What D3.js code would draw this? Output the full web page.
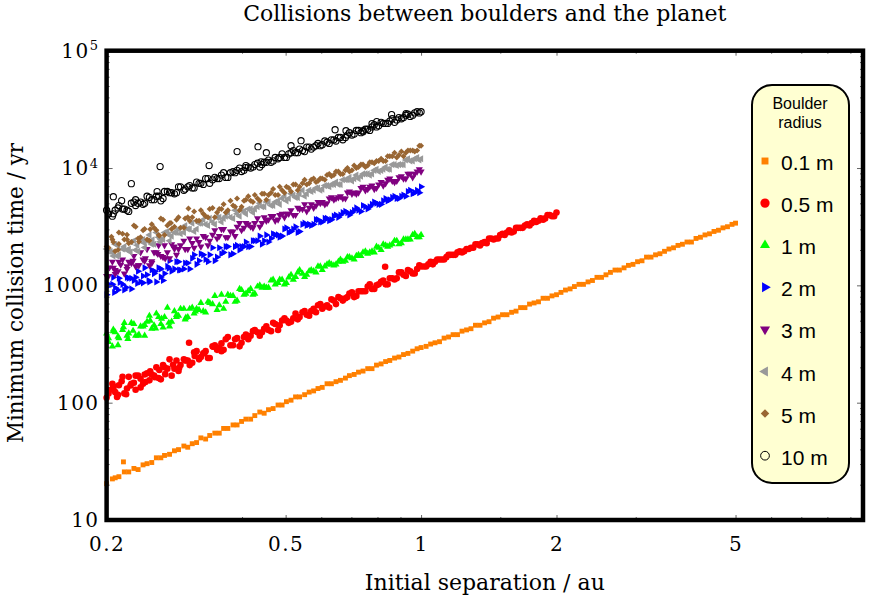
<!DOCTYPE html>
<html>
<head>
<meta charset="utf-8">
<script src="https://cdn.jsdelivr.net/npm/d3@7"></script>
<style>
  body { margin: 0; background: #fff; }
  svg { display: block; }
</style>
</head>
<body>
<svg id="chart"></svg>
<script>
// initial separations (au)
let sepInner = [0.200,0.206,0.209,0.213,0.219,0.224,0.230,0.235,0.241,0.246,
  0.252,0.258,0.264,0.269,0.276,0.283,0.289,0.297,0.303,0.310,
  0.317,0.324,0.332,0.339,0.348,0.356,0.364,0.372,0.382,0.390,
  0.399,0.408,0.418,0.427,0.438,0.448,0.458,0.469,0.481,0.491,
  0.502,0.514,0.526,0.537,0.551,0.564,0.577,0.590,0.603,0.618,
  0.632,0.647,0.662,0.679,0.693,0.710,0.726,0.743,0.761,0.778,
  0.796,0.815,0.834,0.852,0.873,0.893,0.914,0.935,0.958,0.980,1.000]
let sepInnerB = [0.202,0.207,0.212,0.217,0.222,0.227,0.232,0.238,0.243,0.249,
  0.255,0.261,0.267,0.273,0.279,0.286,0.292,0.299,0.306,0.313,
  0.321,0.328,0.336,0.344,0.352,0.360,0.368,0.377,0.386,0.395,
  0.404,0.413,0.423,0.433,0.443,0.453,0.464,0.474,0.485,0.497,
  0.508,0.520,0.532,0.545,0.557,0.570,0.584,0.597,0.611,0.625,
  0.640,0.655,0.670,0.686,0.702,0.718,0.735,0.752,0.769,0.787,
  0.805,0.824,0.843,0.863,0.883,0.904,0.925,0.946,0.968,0.991]
let sepMid = [1.026,1.050,1.074,1.099,1.125,1.151,1.178,1.205,1.233,1.262,
  1.291,1.321,1.352,1.384,1.416,1.449,1.483,1.517,1.552,1.589,
  1.626,1.664,1.702,1.742,1.783,1.824,1.867,1.910,1.954,2.000]
let sepMidB = [1.014,1.038,1.062,1.086,1.112,1.138,1.164,1.191,1.219,1.247,
  1.276,1.306,1.336,1.367,1.399,1.432,1.465,1.499,1.534,1.570,
  1.607,1.644,1.682,1.721,1.761,1.802,1.844,1.887,1.931,1.976]
let sepOuter = [2.046,2.094,2.144,2.192,2.244,2.296,2.35,2.404,2.46,2.518,
  2.576,2.636,2.698,2.76,2.826,2.89,2.958,3.028,3.098,3.17,
  3.244,3.32,3.396,3.476,3.556,3.64,3.724,3.81,3.9,3.99,
  4.084,4.178,4.276,4.376,4.478,4.582,4.688,4.798,4.91,5.0]

// minimum collision times (yr) for each boulder radius
let tOrange = [20.4,22.4,22.9,23.4,25.7,25.7,27.5,26.9,29.5,30.2,
  30.9,33.9,33.9,35.5,36.3,38.9,39.8,42.7,41.7,44.7,
  45.7,50.1,49.0,52.5,55.0,55.0,60.3,60.3,64.6,64.6,
  69.2,72.4,72.4,77.6,83.2,81.3,87.1,89.1,95.5,95.5,
  102,105,112,112,117,123,126,132,135,145,
  145,151,155,162,170,174,182,186,195,195,
  209,214,224,229,240,245,257,263,275,288,
  295,302,316,324,331,355,363,380,380,407,
  417,427,457,457,479,490,525,537,562,562,
  589,603,646,646,692,708,724,776,776,813,
  832,871,912,933,977,1020,1020,1070,1100,1170,
  1170,1230,1290,1350,1350,1410,1480,1510,1590,1620,
  1740,1740,1820,1860,1950,2040,2090,2190,2240,2340,
  2340,2510,2570,2690,2750,2880,2950,3090,3160,3310,3390]
let tRed = [110,145,123,141,120,166,148,170,145,178,
  174,200,158,200,234,195,186,234,229,219,
  275,245,275,240,309,295,282,363,309,355,
  324,380,372,417,372,427,417,479,417,501,
  501,490,575,537,603,550,631,676,631,676,
  759,692,776,776,851,794,891,891,977,933,
  1000,1070,1020,1150,1120,1290,1230,1350,1260,1380,
  1450,1450,1590,1590,1660,1660,1820,1820,1910,1910,
  2040,2090,2240,2190,2340,2510,2460,2510,2750,2820,
  2820,3090,3090,3240,3240,3550,3550,3630,3980,3890,4170]
let tRed2 = [120,138,117,166,132,145,170,135,174,155,
  170,162,209,195,170,229,209,229,209,269,
  234,263,240,302,282,275,347,309,347,302,
  363,347,407,398,398,447,407,468,457,525,
  479,525,513,589,562,603,589,692,661,646,
  741,794,741,794,871,813,891,891,1020,933,
  1020,1100,1020,1150,1150,1290,1200,1320,1260,1480,
  1450,1510,1510,1660,1660,1740,1820,1820,1950,1950,
  2040,2090,2240,2290,2290,2510,2510,2690,2690,2950,
  2880,3090,3090,3310,3390,3470,3720,3720,3980,3890]
let tGreen = [389,302,398,355,479,389,468,372,447,490,
  427,575,468,537,447,603,550,631,537,646,
  631,708,589,708,813,676,631,832,813,741,
  912,851,933,851,1000,977,955,1120,1050,1120,
  1050,1230,1180,1350,1180,1320,1320,1450,1350,1510,
  1510,1510,1660,1620,1740,1660,1820,1910,1860,1950,
  2140,2000,2190,2190,2400,2240,2460,2460,2690,2570,2690]
let tGreen2 = [355,407,309,417,372,479,372,447,372,550,
  457,537,437,646,490,537,631,513,631,575,
  617,603,724,692,617,832,724,813,724,933,
  832,891,832,977,955,955,1100,1020,1120,1020,
  1170,1120,1290,1260,1230,1350,1290,1450,1450,1550,
  1480,1590,1590,1740,1700,1780,1780,1950,1910,1910,
  2090,2240,2140,2240,2400,2290,2460,2460,2750,2570]
let tBlue = [832,1020,955,1150,912,1150,1100,1320,1050,1230,
  1350,1070,1380,1260,1620,1380,1590,1380,1550,1700,
  1510,1860,1660,1820,1620,2090,1910,2140,1860,2190,
  2140,2340,2140,2400,2630,2400,2340,2750,2690,2630,
  3090,2880,3160,2880,3390,3310,3310,3630,3470,3720,
  3630,3980,3980,4270,3980,4370,4370,4790,4470,4900,
  5010,4900,5500,5370,5750,5500,5890,6310,6030,6460,6920]
let tBlue2 = [1020,1170,912,1020,1170,933,1170,1070,1410,1070,
  1260,1410,1100,1450,1320,1590,1350,1550,1380,1820,
  1620,1820,1590,2090,1740,1860,2140,1820,2140,2000,
  2140,2140,2400,2400,2240,2690,2510,2690,2570,3020,
  2820,3020,2820,3310,3240,3240,3630,3470,3720,3550,
  3890,3800,4170,4170,4170,4570,4270,4680,4680,5130,
  4900,5250,5250,5620,5500,5750,5750,6460,6170,6170]
let tPurple = [1200,1590,1350,1590,1260,1590,1780,1480,1660,2040,
  1550,1910,1780,2190,1700,2140,2040,2400,2040,2290,
  2510,2140,2570,2400,2950,2630,3020,2570,2880,3160,
  2950,3390,3160,3390,3160,3800,3630,3890,3630,4070,
  4070,4370,3980,4470,4900,4570,4570,5130,5130,5010,
  5620,5500,5750,5500,6310,6170,6170,6920,6610,7080,
  6760,7590,7410,8130,7590,8320,8130,8910,8320,9330,9330]
let tPurple2 = [1200,1410,1320,1660,1450,1550,1450,1910,1620,1480,
  1910,2190,1740,1910,2240,1820,2190,2040,2510,2090,
  2340,2630,2190,2690,2510,3020,2570,2880,2630,3390,
  3090,3310,3090,3720,3390,3550,3890,3550,3980,3800,
  4070,3980,4570,4470,4270,4900,4790,5010,4900,5500,
  5370,5620,5500,6170,6030,6030,6760,6460,6920,6610,
  7240,7080,7940,7760,7760,8510,8130,8910,8910,9770]
let tGray = [2040,1910,2240,1820,2140,2040,2400,1950,2460,2400,
  2240,2820,2460,2820,2400,2820,3020,2820,3020,3390,
  3020,3390,3310,3720,3310,3800,3720,4170,3720,4070,
  4370,4070,4470,4470,5010,4680,5130,4790,5250,5500,
  5250,6030,5620,6030,5750,6460,6460,6760,6610,7080,
  7240,7590,7240,7940,8320,8130,8130,8910,8910,8910,
  9770,9550,10200,9770,10700,10700,10700,12000,11500,12300,12000]
let tGray2 = [1950,1780,2190,2040,2000,2340,2000,2400,2290,2690,
  2240,2570,2460,2880,2630,2820,2750,3240,3020,2880,
  3390,3630,3240,3470,3800,3470,3890,3800,4370,3890,
  4270,4470,4170,4680,4680,5130,4790,5130,4900,5750,
  5500,5890,5620,6460,6030,6310,6760,6460,7080,6920,
  7240,7240,7940,7940,7760,8710,8510,8910,8710,9550,
  9330,9770,9770,10700,10500,10700,11700,11500,12000,11700]
let tBrown = [2140,2460,1950,2820,2460,2290,3240,2510,2950,2460,
  3310,2950,3720,2690,3390,3160,3800,3090,3800,3800,
  3550,4370,3890,4470,3800,4470,4900,4370,4790,5500,
  4680,5370,5250,5890,5250,6030,5890,6610,5890,6460,
  6920,6310,7240,6920,7940,7410,8130,7760,8130,8710,
  8510,9330,8910,9550,9330,10500,10200,10700,10500,11200,
  11500,12000,11500,12600,13500,12900,12600,14100,14100,14100,15500]
let tBrown2 = [2090,2340,2000,2750,2460,2340,3160,2570,3020,2400,
  3090,2690,3630,3240,3020,3630,3090,3720,3550,4270,
  3550,4070,3800,4570,4170,4470,4170,5250,4680,4370,
  5250,5750,5130,5500,6030,5370,6170,5890,6920,6170,
  6760,7240,6460,7410,7240,7940,7590,8130,7940,8910,
  8710,9330,8910,10000,9550,10000,10700,10200,11200,11000,
  11500,11500,12600,12600,12300,13800,13500,14100,13800,15500]
let tBlack = [4370,3890,4370,4790,4470,4270,5130,5010,4900,5750,
  5370,5750,5250,6310,6170,6030,6920,6460,6920,6760,
  7590,7410,8130,7410,8320,8130,9120,8320,9330,9550,
  9330,10500,10000,10700,10200,11200,11700,11500,12000,13200,
  12300,13500,13500,14500,13800,15100,15100,16200,15800,16600,
  17400,17000,18200,18200,20000,19500,20900,20400,21400,22400,
  22400,24500,24000,25100,24500,26900,26900,28800,28200,30200,30200]
let tBlack2 = [4070,4070,4570,4470,4370,5010,4790,5130,5010,5620,
  5370,5750,5500,6310,6170,6170,6920,6610,7080,6760,
  7410,7240,8130,7940,8130,8710,8320,9120,9120,10000,
  9550,10200,10200,11000,10700,11200,11200,12300,12300,12300,
  13200,14100,13500,14100,15100,14500,15500,15500,17000,16200,
  17400,18200,17400,19100,19100,20900,20000,21400,20900,23400,
  22900,24000,24000,26300,25700,26300,28200,27500,29500,29500]

// stray points read one by one [separation, time]
let strayOrange = [[0.218,31.3]]
let strayRed = [[0.305,324],[0.832,1440],[0.203,128],[0.207,133],[0.211,112],[0.216,152],
  [0.221,118],[0.226,140],[0.232,129],[0.238,160],[0.244,150],[0.250,185],[0.256,165],
  [0.262,190],[0.270,175],[0.281,210],[0.290,198],[0.300,230],[0.314,250],[0.330,265],
  [0.345,300],[0.360,320]]
let strayGreen = [[0.202,330],[0.207,420],[0.212,365],[0.218,440],[0.223,350],[0.229,410],
  [0.236,380],[0.243,460],[0.250,500],[0.257,430],[0.265,520],[0.275,480],[0.286,560],
  [0.300,530],[0.315,600]]
let strayBlue = [[0.203,1000],[0.208,870],[0.214,1060],[0.221,960],[0.227,1150],[0.234,1040],
  [0.241,1200],[0.248,1100],[0.256,1310],[0.264,1180],[0.275,1400],[0.290,1350]]
let strayPurple = [[0.203,1420],[0.209,1250],[0.215,1500],[0.222,1380],[0.229,1620],
  [0.236,1480],[0.244,1700],[0.252,1600],[0.260,1850],[0.270,1700],[0.283,2050]]
let strayGray = [[0.204,1950],[0.211,1780],[0.218,2050],[0.226,1920],[0.234,2200],
  [0.243,2100],[0.253,2450],[0.263,2350],[0.275,2700]]
let strayBrown = [[0.205,2600],[0.213,2250],[0.222,2700],[0.236,2350],[0.250,3000],
  [0.262,2650],[0.278,3400],[0.304,4510]]
let strayBlack = [[0.207,5700],[0.216,5270],[0.227,7360],[0.232,5370],[0.263,10300],
  [0.259,6300],[0.338,10500],[0.390,13800],[0.407,10100],[0.434,15200],[0.453,13500],
  [0.441,11300],[0.514,15500],[0.541,17100],[0.644,21200],[0.681,20800],[0.743,20800],
  [0.778,23900],[0.797,24900],[0.860,28500],[0.926,29100]]

let radiusLabels = ['0.1 m', '0.5 m', '1 m', '2 m', '3 m', '4 m', '5 m', '10 m']
let xTickValues = [0.2, 0.5, 1, 2, 5]
let xMinorValues = [0.4, 0.6, 0.7, 0.8, 0.9, 1.5, 3, 6, 7, 8, 9]
let yTickValues = [10, 100, 1000, 1e4, 1e5]

let width = 872
let height = 603
let plotLeft = 106.6
let plotRight = 863
let plotTop = 50.7
let plotBottom = 520

let serif = "'DejaVu Serif', serif"
let sans = "'Liberation Sans', Arial, sans-serif"

let svg = d3.select('#chart')
  .attr('width', width)
  .attr('height', height)

let xScale = d3.scaleLog().domain([0.2, 9.6]).range([plotLeft, plotRight])
let yScale = d3.scaleLog().domain([10, 1e5]).range([plotBottom, plotTop])

let zip = (xs, ys) => ys.map((y, i) => [xs[i], y])

let series = [
  { color: '#ff8000', type: d3.symbolSquare, size: 24, rot: 0,
    points: zip(sepInner.concat(sepMid, sepOuter), tOrange).concat(strayOrange) },
  { color: '#ff0000', type: d3.symbolCircle, size: 34, rot: 0,
    points: zip(sepInner.concat(sepMid), tRed).concat(zip(sepInnerB.concat(sepMidB), tRed2), strayRed) },
  { color: '#00ff00', type: d3.symbolTriangle, size: 22, rot: 0,
    points: zip(sepInner, tGreen).concat(zip(sepInnerB, tGreen2), strayGreen) },
  { color: '#0000ff', type: d3.symbolTriangle, size: 22, rot: 90,
    points: zip(sepInner, tBlue).concat(zip(sepInnerB, tBlue2), strayBlue) },
  { color: '#800080', type: d3.symbolTriangle, size: 22, rot: 180,
    points: zip(sepInner, tPurple).concat(zip(sepInnerB, tPurple2), strayPurple) },
  { color: '#999999', type: d3.symbolTriangle, size: 22, rot: 270,
    points: zip(sepInner, tGray).concat(zip(sepInnerB, tGray2), strayGray) },
  { color: '#996633', type: d3.symbolSquare, size: 18, rot: 45,
    points: zip(sepInner, tBrown).concat(zip(sepInnerB, tBrown2), strayBrown) },
  { color: '#000000', type: d3.symbolCircle, size: 30, rot: 0, open: true,
    points: zip(sepInner, tBlack).concat(zip(sepInnerB, tBlack2), strayBlack) }
]

let drawPoints = () => {
  series.forEach((s) => {
    svg.append('g')
      .selectAll('path')
      .data(s.points)
      .enter()
      .append('path')
      .attr('d', d3.symbol().type(s.type).size(s.size)())
      .attr('transform', (d) => 'translate(' + xScale(d[0]) + ',' + yScale(d[1]) + ') rotate(' + s.rot + ')')
      .attr('fill', s.open ? 'none' : s.color)
      .attr('stroke', s.open ? s.color : 'none')
      .attr('stroke-width', 1.1)
  })
}

let styleAxis = (g) => {
  g.select('.domain').remove()
  g.attr('color', '#666')
  g.selectAll('line').attr('stroke-width', 1)
  g.selectAll('text')
    .attr('fill', '#000')
    .attr('font-family', serif)
    .attr('font-size', 20)
    .attr('letter-spacing', 1.5)
}

let generateAxes = () => {
  let yMinor = yScale.ticks().filter((v) => yTickValues.indexOf(v) < 0)

  // major ticks with labels
  svg.append('g')
    .attr('transform', 'translate(0,' + plotBottom + ')')
    .call(d3.axisBottom(xScale).tickValues(xTickValues).tickSize(-5).tickPadding(17).tickFormat(d3.format('')))
    .call(styleAxis)

  svg.append('g')
    .attr('transform', 'translate(' + plotLeft + ',0)')
    .call(d3.axisLeft(yScale).tickValues(yTickValues).tickSize(-6).tickPadding(7).tickFormat((d) => d >= 1e4 ? '' : d3.format('')(d)))
    .call(styleAxis)
    .selectAll('.tick text')
    .each(function (d) {
      if (d >= 1e4) {
        let t = d3.select(this)
        t.append('tspan').text('10')
        t.append('tspan').attr('dy', '-0.55em').attr('font-size', 13).text(Math.round(Math.log10(d)))
      }
    })

  // unlabelled ticks
  let bare = [
    [d3.axisBottom(xScale).tickValues(xMinorValues).tickSize(-3), 'translate(0,' + plotBottom + ')'],
    [d3.axisTop(xScale).tickValues(xTickValues).tickSize(-5), 'translate(0,' + plotTop + ')'],
    [d3.axisTop(xScale).tickValues(xMinorValues).tickSize(-3), 'translate(0,' + plotTop + ')'],
    [d3.axisLeft(yScale).tickValues(yMinor).tickSize(-3), 'translate(' + plotLeft + ',0)'],
    [d3.axisRight(yScale).tickValues(yTickValues).tickSize(-6), 'translate(' + plotRight + ',0)'],
    [d3.axisRight(yScale).tickValues(yMinor).tickSize(-3), 'translate(' + plotRight + ',0)']
  ]
  bare.forEach((b) => {
    svg.append('g')
      .attr('transform', b[1])
      .call(b[0].tickFormat(''))
      .call(styleAxis)
  })

  // frame
  svg.append('rect')
    .attr('x', plotLeft)
    .attr('y', plotTop)
    .attr('width', plotRight - plotLeft)
    .attr('height', plotBottom - plotTop)
    .attr('fill', 'none')
    .attr('stroke', '#000')
    .attr('stroke-width', 4.5)
}

let generateLabels = () => {
  svg.append('text')
    .attr('x', (plotLeft + plotRight) / 2)
    .attr('y', 21)
    .attr('text-anchor', 'middle')
    .attr('font-family', serif)
    .attr('font-size', 22)
    .text('Collisions between boulders and the planet')

  svg.append('text')
    .attr('x', (plotLeft + plotRight) / 2)
    .attr('y', 590)
    .attr('text-anchor', 'middle')
    .attr('font-family', serif)
    .attr('font-size', 22)
    .text('Initial separation / au')

  svg.append('text')
    .attr('transform', 'translate(23,293) rotate(-90)')
    .attr('text-anchor', 'middle')
    .attr('font-family', serif)
    .attr('font-size', 21.5)
    .text('Minimum collision time / yr')
}

let generateLegend = () => {
  let lg = svg.append('g')

  lg.append('rect')
    .attr('x', 752)
    .attr('y', 85)
    .attr('width', 97)
    .attr('height', 398)
    .attr('rx', 20)
    .attr('fill', '#ffffd2')
    .attr('stroke', '#000')
    .attr('stroke-width', 2)

  lg.append('text')
    .attr('x', 800)
    .attr('y', 109)
    .attr('text-anchor', 'middle')
    .attr('font-family', sans)
    .attr('font-size', 16)
    .text('Boulder')
  lg.append('text')
    .attr('x', 800)
    .attr('y', 128)
    .attr('text-anchor', 'middle')
    .attr('font-family', sans)
    .attr('font-size', 16)
    .text('radius')

  series.forEach((s, i) => {
    let cy = 161 + i * 42.1
    lg.append('path')
      .attr('d', d3.symbol().type(s.type).size(s.size * 2)())
      .attr('transform', 'translate(765,' + cy + ') rotate(' + s.rot + ')')
      .attr('fill', s.open ? 'none' : s.color)
      .attr('stroke', s.open ? s.color : 'none')
      .attr('stroke-width', 1)
    lg.append('text')
      .attr('x', 781)
      .attr('y', cy + 9)
      .attr('font-family', sans)
      .attr('font-size', 21)
      .text(radiusLabels[i])
  })
}

drawPoints()
generateAxes()
generateLabels()
generateLegend()
</script>
</body>
</html>
